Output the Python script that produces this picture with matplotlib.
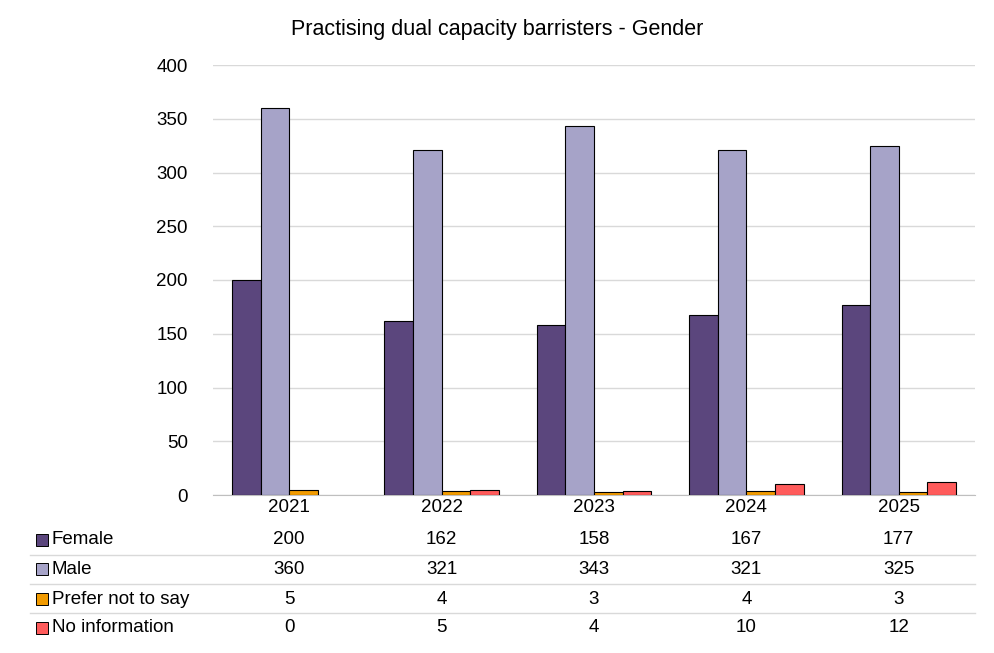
import matplotlib
matplotlib.use("Agg")
import matplotlib.pyplot as plt
import matplotlib.transforms as mtransforms
from matplotlib.lines import Line2D
from matplotlib.patches import Rectangle
import numpy as np

plt.rcParams["font.family"] = ["Liberation Sans", "DejaVu Sans"]

years = ["2021", "2022", "2023", "2024", "2025"]
series_names = ["Female", "Male", "Prefer not to say", "No information"]
female = [200, 162, 158, 167, 177]
male = [360, 321, 343, 321, 325]
prefer_not = [5, 4, 3, 4, 3]
no_info = [0, 5, 4, 10, 12]
series = [female, male, prefer_not, no_info]
colors = ["#5b467d", "#a6a3c8", "#f29b00", "#ff5b5b"]

W, H = 995, 653
fig = plt.figure(figsize=(W / 100, H / 100), dpi=100)
ax = fig.add_axes([213 / W, 1 - 495 / H, (975 - 213) / W, (495 - 65) / H])

x = np.arange(len(years))
bw = 0.1875
for i, (vals, c) in enumerate(zip(series, colors)):
    # zero values draw no bar at all
    lw = [0.8 if v > 0 else 0 for v in vals]
    ax.bar(x + (i - 1.5) * bw, vals, width=bw, color=c, edgecolor="black", linewidth=lw, zorder=3)

ax.set_xlim(-0.5, len(years) - 0.5)
ax.set_ylim(0, 400)
ax.set_yticks(range(0, 401, 50))
ax.grid(axis="y", color="#d9d9d9", linewidth=1, zorder=0)
ax.tick_params(axis="y", length=0, labelsize=13.5, pad=18)
ax.tick_params(axis="x", length=0, labelsize=13.5, pad=3)
ax.set_xticks(x)
ax.set_xticklabels(years)
for s in ["top", "right", "left"]:
    ax.spines[s].set_visible(False)
ax.spines["bottom"].set_color("#bfbfbf")

fig.text(497 / W, 1 - 30 / H, "Practising dual capacity barristers - Gender",
         ha="center", va="center", fontsize=15.5)

# data table below the chart
trans = mtransforms.blended_transform_factory(ax.transData, fig.transFigure)
row_y = [540, 569, 599, 628]
line_y = [555, 584, 613, 643]
for r, (name, vals, c) in enumerate(zip(series_names, series, colors)):
    yf = 1 - row_y[r] / H
    fig.patches.append(Rectangle((36 / W, yf - 6 / H), 12 / W, 12 / H, facecolor=c,
                                 edgecolor="black", linewidth=0.7, transform=fig.transFigure))
    fig.text(52 / W, yf, name, va="center", ha="left", fontsize=13.5)
    for xi, v in zip(x, vals):
        ax.text(xi, yf, str(v), transform=trans, ha="center", va="center", fontsize=13.5, clip_on=False)
for ly in line_y[:-1]:
    fig.add_artist(Line2D([30 / W, 975 / W], [1 - ly / H] * 2, color="#d9d9d9", linewidth=1))

fig.savefig("out.png", dpi=100)
